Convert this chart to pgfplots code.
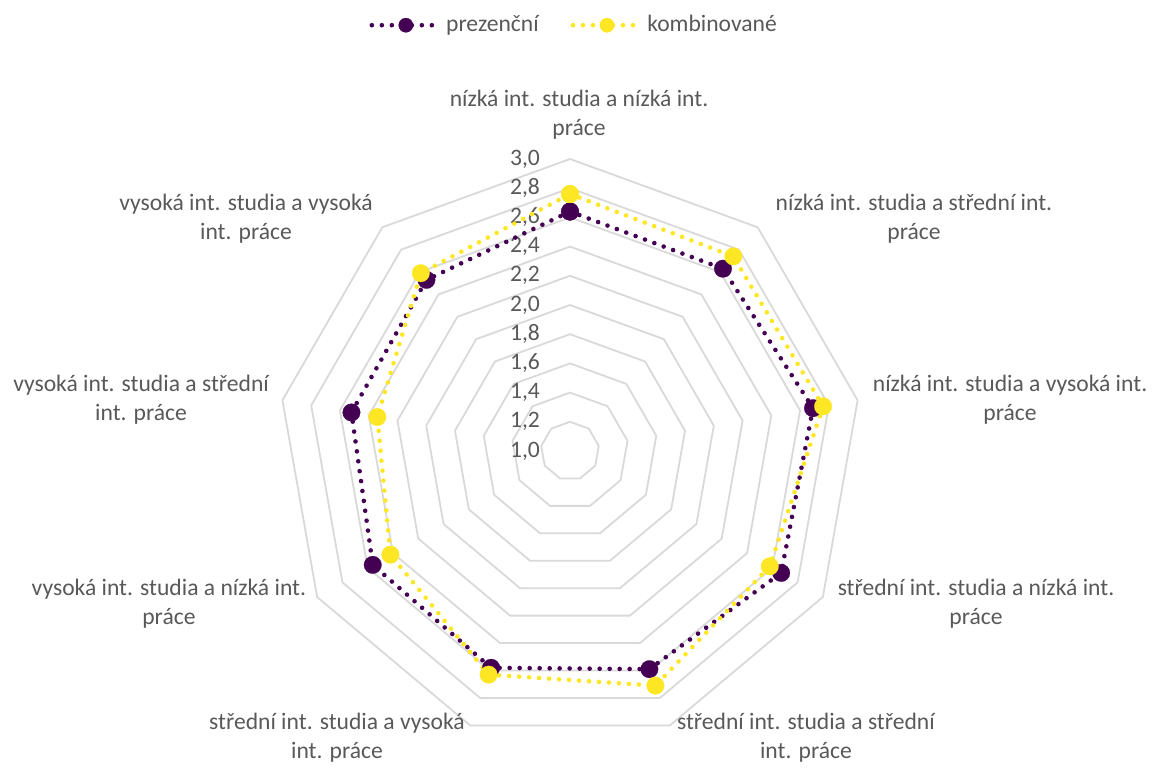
\documentclass[border=0pt]{standalone}
\usepackage{pgfplots}
\usepackage{pgfplotstable}
\pgfplotsset{compat=1.18}
\usepackage{fontspec}
\setmainfont{Carlito}
\definecolor{vpurple}{HTML}{440154}
\definecolor{vyellow}{HTML}{FDE725}
\definecolor{gridgray}{HTML}{D9D9D9}
\definecolor{txtgray}{HTML}{595959}

\pgfplotstableread{
ang prez komb
90 2.64 2.76
50 2.63 2.74
10 2.69 2.76
-30 2.67 2.58
-70 2.59 2.71
-110 2.58 2.63
-150 2.56 2.42
170 2.52 2.34
130 2.53 2.59
90 2.64 2.76
}\radar

\begin{document}
\begin{tikzpicture}[every node/.style={text=txtgray, font=\fontsize{11.8}{14.5}\selectfont}]
\begin{axis}[
  x=73pt, y=73pt, scale only axis, hide axis,
  xmin=-3.9041, xmax=4.0068, ymin=-2.1438, ymax=3.0890,
  clip=false,
  legend columns=2,
  legend cell align=left,
  legend style={at={(0.498,0.967)}, anchor=center, draw=none, fill=none,
    font=\fontsize{11.8}{14}\selectfont, text=txtgray,
    /tikz/every even column/.append style={column sep=14pt}},
  legend image code/.code={\draw[mark repeat=2, mark phase=2, #1, mark size=3.6pt] plot coordinates {(0pt,0pt) (17pt,0pt) (34pt,0pt)};},
]
\path (rel axis cs:0,0) rectangle (rel axis cs:1,1);
\pgfplotsinvokeforeach{0.2,0.4,0.6,0.8,1.0,1.2,1.4,1.6,1.8,2.0}{
  \addplot[gridgray, line width=0.9pt, forget plot, data cs=polar] coordinates {(90,#1) (50,#1) (10,#1) (-30,#1) (-70,#1) (-110,#1) (-150,#1) (170,#1) (130,#1) (90,#1) (50,#1)};
}
\node[anchor=east] at (axis cs:-0.158,0.0) {1,0};
\node[anchor=east] at (axis cs:-0.158,0.2) {1,2};
\node[anchor=east] at (axis cs:-0.158,0.4) {1,4};
\node[anchor=east] at (axis cs:-0.158,0.6) {1,6};
\node[anchor=east] at (axis cs:-0.158,0.8) {1,8};
\node[anchor=east] at (axis cs:-0.158,1.0) {2,0};
\node[anchor=east] at (axis cs:-0.158,1.2) {2,2};
\node[anchor=east] at (axis cs:-0.158,1.4) {2,4};
\node[anchor=east] at (axis cs:-0.158,1.6) {2,6};
\node[anchor=east] at (axis cs:-0.158,1.8) {2,8};
\node[anchor=east] at (axis cs:-0.158,2.0) {3,0};

\addplot[vpurple, line width=2.3pt, line cap=round, dash pattern=on 0pt off 5pt,
  mark=*, mark size=4.4pt, mark options={solid, fill=vpurple, draw=vpurple, line width=0.1pt},
  data cs=polar] table[x=ang, y expr=\thisrow{prez}-1]{\radar};
\addlegendentry{prezenční}
\addplot[vyellow, line width=2.3pt, line cap=round, dash pattern=on 0pt off 5pt,
  mark=*, mark size=4.4pt, mark options={solid, fill=vyellow, draw=vyellow, line width=0.1pt},
  data cs=polar] table[x=ang, y expr=\thisrow{komb}-1]{\radar};
\addlegendentry{kombinované}

\node[align=center] at (axis cs:0.062,2.301) {nízká int. studia a nízká int.\\práce};
\node[align=center] at (axis cs:2.356,1.589) {nízká int. studia a střední int.\\práce};
\node[align=center] at (axis cs:3.014,0.349) {nízká int. studia a vysoká int.\\práce};
\node[align=center] at (axis cs:2.781,-1.048) {střední int. studia a nízká int.\\práce};
\node[align=center] at (axis cs:1.616,-1.966) {střední int. studia a střední\\int. práce};
\node[align=center] at (axis cs:-1.596,-1.966) {střední int. studia a vysoká\\int. práce};
\node[align=center] at (axis cs:-2.747,-1.048) {vysoká int. studia a nízká int.\\práce};
\node[align=center] at (axis cs:-2.938,0.349) {vysoká int. studia a střední\\int. práce};
\node[align=center] at (axis cs:-2.219,1.589) {vysoká int. studia a vysoká\\int. práce};
\end{axis}
\end{tikzpicture}
\end{document}
